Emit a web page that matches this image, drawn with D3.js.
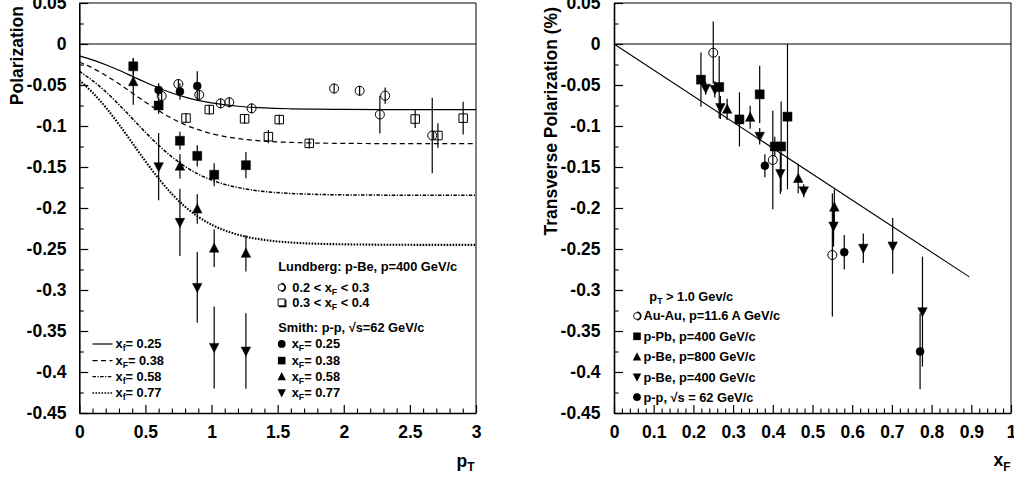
<!DOCTYPE html>
<html>
<head>
<meta charset="utf-8">
<script src="https://cdn.jsdelivr.net/npm/d3@7"></script>
<style>
html, body { margin: 0; padding: 0; background: #fff; }
svg { display: block; }
</style>
</head>
<body>
<svg id="chart" width="1014" height="481"></svg>
<script>
// ---------- axis ticks ----------
const yTicks = [0.05, 0, -0.05, -0.1, -0.15, -0.2, -0.25, -0.3, -0.35, -0.4, -0.45];
const yTickLabels = ["0.05", "0", "-0.05", "-0.1", "-0.15", "-0.2", "-0.25", "-0.3", "-0.35", "-0.4", "-0.45"];
const ptTicks = [0, 0.5, 1, 1.5, 2, 2.5, 3];
const ptTickLabels = ["0", "0.5", "1", "1.5", "2", "2.5", "3"];
const xfTicks = [0, 0.1, 0.2, 0.3, 0.4, 0.5, 0.6, 0.7, 0.8, 0.9, 1];
const xfTickLabels = ["0", "0.1", "0.2", "0.3", "0.4", "0.5", "0.6", "0.7", "0.8", "0.9", "1"];

// ---------- left panel: model curves P(pT) ----------
const curvePT   = [0, 0.1, 0.2, 0.3, 0.4, 0.5, 0.6, 0.7, 0.8, 0.9, 1.0, 1.2, 1.4, 1.6, 1.8, 2.0, 2.5, 3.0];
const curveXf25 = [-0.0144, -0.0193, -0.0253, -0.0320, -0.0393, -0.0467, -0.0536, -0.0597, -0.0648, -0.0688, -0.0719, -0.0759, -0.0780, -0.0790, -0.0795, -0.0798, -0.0800, -0.0800];
const curveXf38 = [-0.0219, -0.0293, -0.0384, -0.0486, -0.0597, -0.0709, -0.0814, -0.0906, -0.0984, -0.1045, -0.1093, -0.1153, -0.1185, -0.1200, -0.1208, -0.1212, -0.1215, -0.1215];
const curveXf58 = [-0.0332, -0.0446, -0.0582, -0.0739, -0.0907, -0.1077, -0.1236, -0.1376, -0.1494, -0.1587, -0.1659, -0.1751, -0.1799, -0.1823, -0.1834, -0.1840, -0.1844, -0.1845];
const curveXf77 = [-0.0441, -0.0592, -0.0773, -0.0981, -0.1205, -0.1430, -0.1641, -0.1828, -0.1984, -0.2108, -0.2203, -0.2326, -0.2389, -0.2421, -0.2436, -0.2443, -0.2449, -0.2450];

// ---------- left panel: Lundberg p-Be, p=400 GeV/c ----------
const lundLowPT  = [0.623, 0.749, 0.907, 1.069, 1.134, 1.303, 1.927, 2.120, 2.273, 2.313, 2.669];
const lundLowP   = [-0.0634, -0.0488, -0.0620, -0.0724, -0.0710, -0.0785, -0.0543, -0.0570, -0.0860, -0.0630, -0.1116];
const lundLowErr = [0.006, 0.006, 0.006, 0.006, 0.006, 0.006, 0.006, 0.006, 0.023, 0.010, 0.046];
const lundHighPT  = [0.807, 0.983, 1.250, 1.430, 1.512, 1.739, 2.540, 2.712, 2.903];
const lundHighP   = [-0.0903, -0.0800, -0.0912, -0.1130, -0.0922, -0.1212, -0.0915, -0.1116, -0.0904];
const lundHighErr = [0.006, 0.006, 0.006, 0.008, 0.006, 0.006, 0.011, 0.015, 0.020];

// ---------- left panel: Smith p-p, sqrt(s)=62 GeV/c ----------
const smith25PT  = [0.600, 0.761, 0.892];
const smith25P   = [-0.0560, -0.0580, -0.0512];
const smith25Err = [0.008, 0.010, 0.018];
const smith38PT  = [0.408, 0.600, 0.761, 0.892, 1.020, 1.260];
const smith38P   = [-0.0272, -0.0750, -0.1180, -0.1364, -0.1595, -0.1478];
const smith38Err = [0.010, 0.010, 0.011, 0.013, 0.014, 0.016];
const smith58PT  = [0.408, 0.761, 0.892, 1.020, 1.260];
const smith58P   = [-0.0460, -0.1490, -0.2013, -0.2490, -0.2553];
const smith58Err = [0.028, 0.015, 0.018, 0.023, 0.022];
const smith77PT  = [0.600, 0.761, 0.892, 1.020, 1.260];
const smith77P   = [-0.1496, -0.2175, -0.2968, -0.3700, -0.3744];
const smith77Err = [0.041, 0.041, 0.043, 0.050, 0.046];

// ---------- right panel: P vs xF ----------
const auAuXF  = [0.250, 0.400, 0.550];
const auAuP   = [-0.0106, -0.1415, -0.2573];
const auAuErr = [0.038, 0.060, 0.075];
const pPbXF  = [0.219, 0.265, 0.316, 0.367, 0.405, 0.421, 0.437];
const pPbP   = [-0.0435, -0.0525, -0.0920, -0.0614, -0.1250, -0.1250, -0.0886];
const pPbErr = [0.033, 0.038, 0.033, 0.035, 0.012, 0.055, 0.0886];
const pBe800XF  = [0.285, 0.343, 0.464, 0.555];
const pBe800P   = [-0.0797, -0.0894, -0.1640, -0.1990];
const pBe800Err = [0.013, 0.014, 0.018, 0.022];
const pBe400XF  = [0.231, 0.254, 0.268, 0.367, 0.419, 0.478, 0.553, 0.628, 0.702, 0.777];
const pBe400P   = [-0.0540, -0.0553, -0.0775, -0.1125, -0.1580, -0.1790, -0.2220, -0.2490, -0.2463, -0.3264];
const pBe400Err = [0.008, 0.010, 0.014, 0.010, 0.025, 0.008, 0.025, 0.018, 0.034, 0.067];
const ppXF  = [0.380, 0.580, 0.771];
const ppP   = [-0.1484, -0.2540, -0.3750];
const ppErr = [0.014, 0.021, 0.046];
const fitXF = [0, 0.895];
const fitP  = [0, -0.284];

// ---------- drawing ----------
const FONT = '"Liberation Sans", Arial, Helvetica, sans-serif';
const TICK_FONT = 17.5;
const svg = d3.select("#chart");
svg.append("rect").attr("width", 1014).attr("height", 481).attr("fill", "#fff");

const yScale = d3.scaleLinear().domain([-0.45, 0.05]).range([413, 3]);
const xLeft  = d3.scaleLinear().domain([0, 3]).range([79.3, 476]);
const xRight = d3.scaleLinear().domain([0, 1]).range([614, 1011]);

function styleAxis(g) {
  g.attr("font-family", FONT).attr("font-size", TICK_FONT).attr("font-weight", "bold");
  g.selectAll("text")
    .attr("font-family", FONT).attr("font-size", TICK_FONT).attr("font-weight", "bold")
    .attr("fill", "#000");
  g.selectAll("line").attr("stroke", "#000").attr("stroke-width", 1.2);
  g.select(".domain").attr("stroke", "#000").attr("stroke-width", 1.6);
}

function drawFrame(x, xTicks, xLabels, xMinorStep, yPad) {
  const [x0, x1] = x.range();
  const [yb, yt] = yScale.range();
  // top and right border
  svg.append("path")
    .attr("d", `M${x0},${yt}H${x1}V${yb}`)
    .attr("fill", "none").attr("stroke", "#000").attr("stroke-width", 1);
  // zero line
  svg.append("line")
    .attr("x1", x0).attr("x2", x1).attr("y1", yScale(0)).attr("y2", yScale(0))
    .attr("stroke", "#000").attr("stroke-width", 1);

  // y axis
  const gy = svg.append("g").attr("transform", `translate(${x0},0)`)
    .call(d3.axisLeft(yScale).tickValues(yTicks)
      .tickFormat((d, i) => yTickLabels[i])
      .tickSizeInner(-9).tickSizeOuter(0).tickPadding(yPad));
  styleAxis(gy);
  const gyMinor = svg.append("g").attr("transform", `translate(${x0},0)`)
    .call(d3.axisLeft(yScale).tickValues(d3.range(-0.425, 0.05, 0.05))
      .tickFormat("").tickSizeInner(-4.5).tickSizeOuter(0));
  gyMinor.select(".domain").remove();
  gyMinor.selectAll("line").attr("stroke", "#000").attr("stroke-width", 1.1);

  // x axis
  const gx = svg.append("g").attr("transform", `translate(0,${yb})`)
    .call(d3.axisBottom(x).tickValues(xTicks)
      .tickFormat((d, i) => xLabels[i])
      .tickSizeInner(-8).tickSizeOuter(0).tickPadding(12.4));
  styleAxis(gx);
  const dom = x.domain();
  const minor = d3.range(dom[0], dom[1] + 1e-9, xMinorStep)
    .filter(v => !xTicks.some(t => Math.abs(t - v) < 1e-6));
  const gxMinor = svg.append("g").attr("transform", `translate(0,${yb})`)
    .call(d3.axisBottom(x).tickValues(minor).tickFormat("")
      .tickSizeInner(-4.5).tickSizeOuter(0));
  gxMinor.select(".domain").remove();
  gxMinor.selectAll("line").attr("stroke", "#000").attr("stroke-width", 1.1);
}

// marker outlines centred on (0,0)
function markerPath(type, s) {
  const h = s / 2;
  switch (type) {
    case "square":
    case "osquare":
      return `M${-h},${-h}H${h}V${h}H${-h}Z`;
    case "up":
      return `M0,${-s * 0.55}L${h},${s * 0.42}L${-h},${s * 0.42}Z`;
    case "down":
      return `M0,${s * 0.55}L${h},${-s * 0.42}L${-h},${-s * 0.42}Z`;
    default: {
      const r = h;
      return `M${r},0A${r},${r} 0 1,1 ${-r},0A${r},${r} 0 1,1 ${r},0Z`;
    }
  }
}

function plotSeries(x, xs, ys, errs, type, size) {
  const rows = xs.map((v, i) => ({ x: v, y: ys[i], e: errs[i] }));
  const g = svg.append("g");
  g.selectAll("line").data(rows).join("line")
    .attr("x1", d => x(d.x)).attr("x2", d => x(d.x))
    .attr("y1", d => yScale(d.y + d.e)).attr("y2", d => yScale(d.y - d.e))
    .attr("stroke", "#000").attr("stroke-width", 1.2);
  const open = type === "ocircle" || type === "osquare";
  g.selectAll("path").data(rows).join("path")
    .attr("transform", d => `translate(${x(d.x)},${yScale(d.y)})`)
    .attr("d", markerPath(type, size))
    .attr("fill", open ? "none" : "#000")
    .attr("stroke", "#000").attr("stroke-width", open ? 1 : 0.5);
}

// ===== left panel =====
drawFrame(xLeft, ptTicks, ptTickLabels, 0.1, 12.8);

const curveStyles = [
  { vals: curveXf25, dash: null, w: 1.2 },
  { vals: curveXf38, dash: "5,3.5", w: 1.2 },
  { vals: curveXf58, dash: "3.5,1.5,1.2,1.5", w: 1.5 },
  { vals: curveXf77, dash: "1.6,1.4", w: 2.1 }
];
const curveLine = d3.line()
  .x(d => xLeft(d[0])).y(d => yScale(d[1]))
  .curve(d3.curveMonotoneX);
curveStyles.forEach(c => {
  svg.append("path")
    .attr("d", curveLine(curvePT.map((p, i) => [p, c.vals[i]])))
    .attr("fill", "none").attr("stroke", "#000")
    .attr("stroke-width", c.w)
    .attr("stroke-dasharray", c.dash);
});

plotSeries(xLeft, lundLowPT, lundLowP, lundLowErr, "ocircle", 9);
plotSeries(xLeft, lundHighPT, lundHighP, lundHighErr, "osquare", 8.5);
plotSeries(xLeft, smith25PT, smith25P, smith25Err, "circle", 8);
plotSeries(xLeft, smith38PT, smith38P, smith38Err, "square", 9);
plotSeries(xLeft, smith58PT, smith58P, smith58Err, "up", 9.5);
plotSeries(xLeft, smith77PT, smith77P, smith77Err, "down", 9.5);

// ===== right panel =====
drawFrame(xRight, xfTicks, xfTickLabels, 0.02, 13.5);

svg.append("line")
  .attr("x1", xRight(fitXF[0])).attr("y1", yScale(fitP[0]))
  .attr("x2", xRight(fitXF[1])).attr("y2", yScale(fitP[1]))
  .attr("stroke", "#000").attr("stroke-width", 1.1);

plotSeries(xRight, auAuXF, auAuP, auAuErr, "ocircle", 9);
plotSeries(xRight, pPbXF, pPbP, pPbErr, "square", 9);
plotSeries(xRight, pBe800XF, pBe800P, pBe800Err, "up", 9.5);
plotSeries(xRight, pBe400XF, pBe400P, pBe400Err, "down", 9.5);
plotSeries(xRight, ppXF, ppP, ppErr, "circle", 8);

// ===== titles =====
function label(x, y, parts, size, anchor) {
  const t = svg.append("text").attr("x", x).attr("y", y)
    .attr("font-family", FONT).attr("font-weight", "bold")
    .attr("font-size", size).attr("fill", "#000")
    .attr("text-anchor", anchor || "start");
  parts.forEach(p => {
    const s = t.append("tspan").text(p.t);
    if (p.sub) s.attr("font-size", p.subSize || size * 0.68).attr("dy", p.sub);
    else if (p.dy) s.attr("dy", p.dy);
  });
  return t;
}

svg.append("text")
  .attr("transform", "translate(22.5,6) rotate(-90)")
  .attr("text-anchor", "end")
  .attr("font-family", FONT).attr("font-weight", "bold").attr("font-size", 17.5)
  .text("Polarization");
svg.append("text")
  .attr("transform", "translate(557,7) rotate(-90)")
  .attr("text-anchor", "end")
  .attr("font-family", FONT).attr("font-weight", "bold").attr("font-size", 17.5)
  .text("Transverse Polarization (%)");

label(456.5, 466.5, [{ t: "p" }, { t: "T", sub: 4.2, subSize: 12 }], 17.5);
label(993.5, 466, [{ t: "x" }, { t: "F", sub: 4.5, subSize: 12 }], 17.5);

// ===== legends =====
const LG = 12.8;

// line legend (left panel, bottom-left)
const lineLegend = [
  { sub: "f", val: "= 0.25" },
  { sub: "F", val: "= 0.38" },
  { sub: "f", val: "= 0.58" },
  { sub: "f", val: "= 0.77" }
];
const lineLegendBase = [348.3, 365, 381, 397.3];
lineLegend.forEach((d, i) => {
  const c = curveStyles[i];
  const yb = lineLegendBase[i];
  svg.append("line").attr("x1", 92.5).attr("x2", 112.5)
    .attr("y1", yb - 4.3).attr("y2", yb - 4.3)
    .attr("stroke", "#000").attr("stroke-width", Math.min(c.w, 1.3))
    .attr("stroke-dasharray", c.dash);
  label(115.5, yb, [{ t: "x" }, { t: d.sub, sub: 3 }, { t: d.val, dy: -3 }], LG);
});

// marker legend (left panel)
function legendSymbol(type, cx, cy, s) {
  if (type === "ocircle") {
    svg.append("circle").attr("cx", cx).attr("cy", cy).attr("r", 3.4)
      .attr("fill", "#fff").attr("stroke", "#000").attr("stroke-width", 0.9);
    svg.append("path")
      .attr("d", `M${cx},${cy - 3.9}A3.9,3.9 0 0,1 ${cx},${cy + 3.9}`)
      .attr("fill", "none").attr("stroke", "#000").attr("stroke-width", 1.4);
  } else if (type === "osquare") {
    svg.append("rect").attr("x", cx - 3.4).attr("y", cy - 3.4)
      .attr("width", 6.8).attr("height", 6.8)
      .attr("fill", "#fff").attr("stroke", "#000").attr("stroke-width", 0.9);
    svg.append("path")
      .attr("d", `M${cx + 4.3},${cy - 2.6}V${cy + 4.3}H${cx - 2.6}`)
      .attr("fill", "none").attr("stroke", "#000").attr("stroke-width", 1.3);
  } else {
    svg.append("path").attr("transform", `translate(${cx},${cy})`)
      .attr("d", markerPath(type, s)).attr("fill", "#000");
  }
}

label(278.3, 271, [{ t: "Lundberg: p-Be, p=400 GeV/c" }], LG);
legendSymbol("ocircle", 281.5, 287.4);
label(292.3, 291.7, [{ t: "0.2 < x" }, { t: "F", sub: 3 }, { t: " < 0.3", dy: -3 }], LG);
legendSymbol("osquare", 281.5, 302.4);
label(292.3, 306.7, [{ t: "0.3 < x" }, { t: "F", sub: 3 }, { t: " < 0.4", dy: -3 }], LG);
label(278.3, 331.7, [{ t: "Smith: p-p, √s=62 GeV/c" }], LG);

const smithLegend = [
  { type: "circle", val: "= 0.25", s: 7.8 },
  { type: "square", val: "= 0.38", s: 7.6 },
  { type: "up", val: "= 0.58", s: 8.4 },
  { type: "down", val: "= 0.77", s: 8.4 }
];
smithLegend.forEach((d, i) => {
  const yb = lineLegendBase[i];
  legendSymbol(d.type, 281.7, yb - 4.4, d.s);
  label(291.7, yb, [{ t: "x" }, { t: "F", sub: 3 }, { t: d.val, dy: -3 }], LG);
});

// right panel legend
label(649.3, 300.7, [{ t: "p" }, { t: "T", sub: 3 }, { t: " > 1.0 Gev/c", dy: -3 }], LG);
const rightLegend = [
  { type: "ocircle", text: "Au-Au, p=11.6 A GeV/c", s: 8 },
  { type: "square", text: "p-Pb, p=400 GeV/c", s: 7.6 },
  { type: "up", text: "p-Be, p=800 GeV/c", s: 8.4 },
  { type: "down", text: "p-Be, p=400 GeV/c", s: 8.4 },
  { type: "circle", text: "p-p, √s = 62 GeV/c", s: 7.8 }
];
const rightLegendBase = [320.4, 340.7, 361.3, 381.5, 401.5];
rightLegend.forEach((d, i) => {
  const yb = rightLegendBase[i];
  legendSymbol(d.type, 637, yb - 4.4, d.s);
  label(643.5, yb, [{ t: d.text }], LG);
});
</script>
</body>
</html>
